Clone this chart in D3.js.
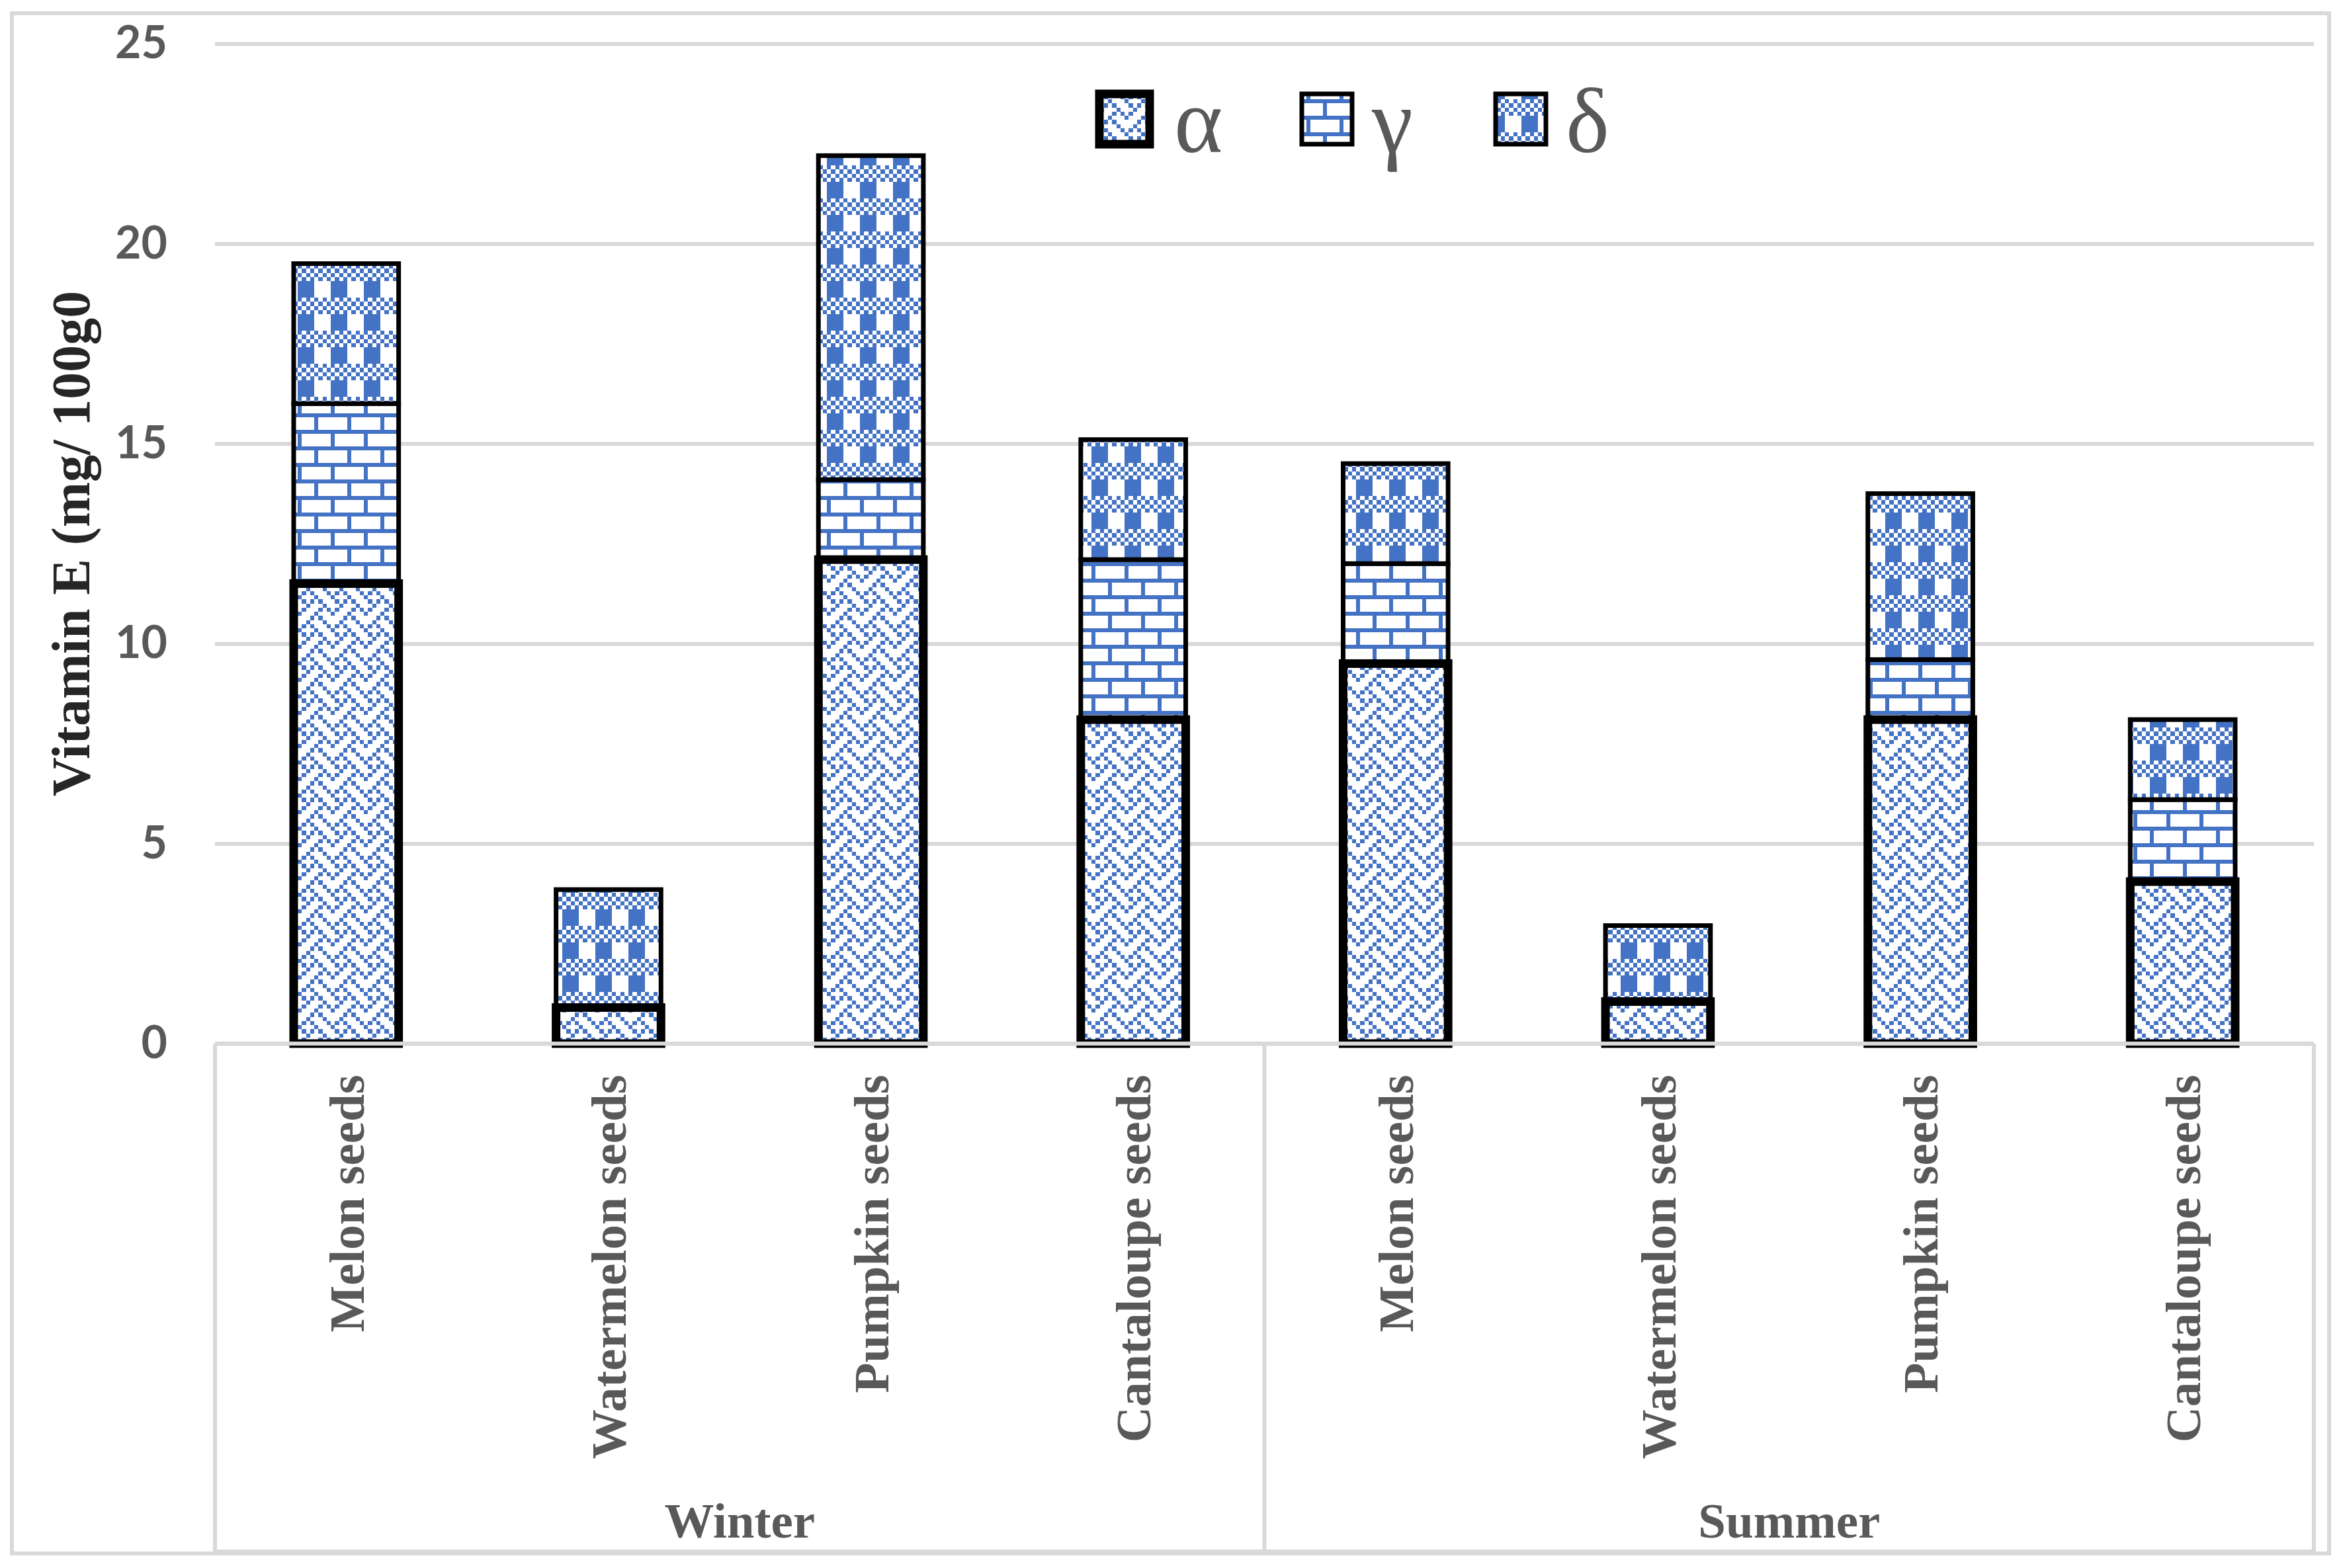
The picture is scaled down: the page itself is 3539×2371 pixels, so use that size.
<!DOCTYPE html>
<html><head><meta charset="utf-8">
<script src="https://cdn.jsdelivr.net/npm/d3@7"></script>
<style>body{margin:0;background:#fff}</style>
</head><body><svg id="c" width="3539" height="2371" xmlns="http://www.w3.org/2000/svg"></svg>
<script>
// ---- data ----
const categories = ["Melon seeds","Watermelon seeds","Pumpkin seeds","Cantaloupe seeds","Melon seeds","Watermelon seeds","Pumpkin seeds","Cantaloupe seeds"];
const groups = ["Winter","Summer"];
const seriesNames = ["α","γ","δ"];
const alphaValues = [11.5, 0.9, 12.1, 8.1, 9.5, 1.05, 8.1, 4.05];
const gammaValues = [4.5, 0, 2.0, 4.0, 2.5, 0, 1.5, 2.05];
const deltaValues = [3.5, 2.95, 8.1, 3.0, 2.5, 1.9, 4.15, 2.0];
const yTicks = [0, 5, 10, 15, 20, 25];
const yTitle = "Vitamin E (mg/ 100g0";

// ---- layout ----
const W = 3539, H = 2371;
const X0 = 325, X1 = 3498, Y0 = 1578, Y1 = 66;
const BLUE = "#4472C4", GRID = "#d9d9d9";

const svg = d3.select("#c");
svg.append("rect").attr("width", W).attr("height", H).attr("fill", "#fff");

// ---- patterns (8x8 bitmaps) ----
const defs = svg.append("defs");
const PX = 6.25;
const bitmaps = {
  weave: [0x88,0x54,0x22,0x45,0x88,0x14,0x22,0x51],
  brick: [0xff,0x80,0x80,0x80,0xff,0x08,0x08,0x08],
  plaid: [0xaa,0x55,0xaa,0x55,0xf0,0xf0,0xf0,0xf0]
};
function makePattern(id, rows){
  const p = defs.append("pattern").attr("id", id).attr("patternUnits","userSpaceOnUse")
    .attr("width", 8*PX).attr("height", 8*PX);
  p.append("rect").attr("width", 8*PX).attr("height", 8*PX).attr("fill", "#fff");
  rows.forEach((b, r) => {
    for (let c = 0; c < 8; c++) {
      if (b & (0x80 >> c)) {
        p.append("rect").attr("x", c*PX).attr("y", r*PX).attr("width", PX).attr("height", PX)
          .attr("fill", BLUE).attr("shape-rendering","crispEdges");
      }
    }
  });
}
makePattern("pa", bitmaps.weave);
makePattern("pg", bitmaps.brick);
makePattern("pd", bitmaps.plaid);
const seriesStyle = [
  {fill: "url(#pa)", sw: 13},
  {fill: "url(#pg)", sw: 7},
  {fill: "url(#pd)", sw: 7}
];

// ---- scales ----
const x = d3.scaleBand().domain(d3.range(categories.length)).range([X0, X1]).paddingInner(0.6).paddingOuter(0.3);
const y = d3.scaleLinear().domain([0, 25]).range([Y0, Y1]);

// outer border
svg.append("rect").attr("x", 18).attr("y", 20).attr("width", 3503).attr("height", 2329)
  .attr("fill", "none").attr("stroke", GRID).attr("stroke-width", 6);

// gridlines + tick labels
const yAxis = svg.append("g").attr("transform", `translate(${X0},0)`)
  .call(d3.axisLeft(y).tickValues(yTicks).tickSize(-(X1 - X0)).tickPadding(72).tickFormat(d3.format("d")));
yAxis.select(".domain").remove();
yAxis.selectAll(".tick line").attr("stroke", GRID).attr("stroke-width", 6);
yAxis.selectAll(".tick text").attr("fill", "#595959").attr("font-family", "Lato, 'Open Sans', sans-serif")
  .attr("font-weight", 700).attr("font-size", 68);

// ---- stacked bars ----
const table = categories.map((c, i) => ({i, a: alphaValues[i], g: gammaValues[i], d: deltaValues[i]}));
const stack = d3.stack().keys(["a","g","d"])(table);
const drawOrder = [1, 2, 0];
drawOrder.forEach(si => {
  const layer = stack[si];
  svg.append("g").selectAll("rect").data(layer.filter(d => d[1] - d[0] > 0)).join("rect")
    .attr("x", d => x(d.data.i)).attr("width", x.bandwidth())
    .attr("y", d => y(d[1])).attr("height", d => y(d[0]) - y(d[1]))
    .attr("fill", seriesStyle[si].fill).attr("stroke", "#000").attr("stroke-width", seriesStyle[si].sw);
});

// baseline and category box
const box = svg.append("g").attr("stroke", GRID).attr("stroke-width", 6).attr("fill", "none");
box.append("line").attr("x1", X0).attr("x2", X1).attr("y1", Y0).attr("y2", Y0);
const groupEdges = [X0, x(4) - x.step()*x.paddingInner()/2 - 0, X1];
const midX = (x(3) + x.bandwidth() + x(4)) / 2;
[X0, midX, X1].forEach(v => box.append("line").attr("x1", v).attr("x2", v).attr("y1", Y0).attr("y2", 2346));
box.append("line").attr("x1", X0).attr("x2", X1).attr("y1", 2346).attr("y2", 2346);

// category labels
svg.append("g").selectAll("text").data(categories).join("text")
  .attr("transform", (d, i) => `translate(${x(i) + x.bandwidth()/2},1625) rotate(-90)`)
  .attr("text-anchor", "end").attr("dy", "0.35em")
  .attr("font-family", "'Liberation Serif', 'Times New Roman', serif").attr("font-weight", 700)
  .attr("font-size", 75).attr("fill", "#595959").text(d => d);

// group labels
svg.append("g").selectAll("text").data(groups).join("text")
  .attr("x", (d, gi) => gi === 0 ? (X0 + midX)/2 : (midX + X1)/2).attr("y", 2325)
  .attr("text-anchor", "middle")
  .attr("font-family", "'Liberation Serif', 'Times New Roman', serif").attr("font-weight", 700)
  .attr("font-size", 75).attr("fill", "#595959").text(d => d);

// y axis title
svg.append("text").attr("transform", `translate(135,${(Y0 + Y1)/2}) rotate(-90)`)
  .attr("text-anchor", "middle")
  .attr("font-family", "'Liberation Serif', 'Times New Roman', serif").attr("font-weight", 700)
  .attr("font-size", 82).attr("fill", "#262626").text(yTitle);

// legend
const legendX = [1700, 2006, 2299];
const legendTextX = [1775, 2074, 2367];
const lg = svg.append("g");
seriesNames.forEach((n, i) => {
  const s = 76;
  lg.append("rect").attr("x", legendX[i] - s/2).attr("y", 180 - s/2).attr("width", s).attr("height", s)
    .attr("fill", seriesStyle[i].fill).attr("stroke", "#000").attr("stroke-width", i === 0 ? 13 : 7);
  lg.append("text").attr("x", legendTextX[i]).attr("y", 230)
    .attr("font-family", "'Liberation Serif', 'Times New Roman', serif")
    .attr("font-size", 140).attr("fill", "#595959").text(n);
});
</script></body></html>
